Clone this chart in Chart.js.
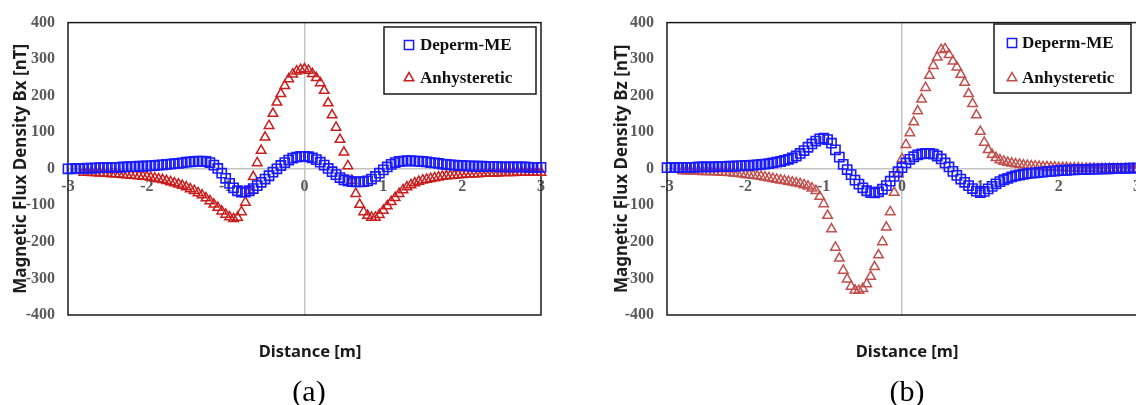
<!DOCTYPE html>
<html>
<head>
<meta charset="utf-8">
<script src="https://cdn.jsdelivr.net/npm/chart.js@4.4.0/dist/chart.umd.min.js"></script>
<style>
  html, body { margin: 0; padding: 0; background: #fff; }
  body { width: 1136px; height: 405px; overflow: hidden; position: relative; }
  .panel { position: absolute; top: 0; height: 405px; }
  .xtitle { position: absolute; top: 340px; font: bold 16.5px "Noto Sans", sans-serif; color: #1a1a1a;
            transform: translateX(-50%); white-space: nowrap; line-height: 22px; }
  .caption { position: absolute; top: 374px; font: 30px "Liberation Serif", serif; color: #000;
             transform: translateX(-50%); line-height: 34px; }
</style>
</head>
<body>
<div class="panel" style="left:0px;width:560px"><canvas id="chartA" width="560" height="405"></canvas></div>
<div class="panel" style="left:599px;width:557px"><canvas id="chartB" width="557" height="405"></canvas></div>
<div class="xtitle" style="left:310px">Distance [m]</div>
<div class="caption" style="left:309px">(a)</div>
<div class="xtitle" style="left:907px">Distance [m]</div>
<div class="caption" style="left:907px">(b)</div>

<script>
// distance along the sensor line [m], 0.05 m step
const distance = [
  -3.00, -2.95, -2.90, -2.85, -2.80, -2.75, -2.70, -2.65, -2.60, -2.55, -2.50, -2.45, -2.40, -2.35, -2.30, -2.25, -2.20, -2.15, -2.10, -2.05,
  -2.00, -1.95, -1.90, -1.85, -1.80, -1.75, -1.70, -1.65, -1.60, -1.55, -1.50, -1.45, -1.40, -1.35, -1.30, -1.25, -1.20, -1.15, -1.10, -1.05,
  -1.00, -0.95, -0.90, -0.85, -0.80, -0.75, -0.70, -0.65, -0.60, -0.55, -0.50, -0.45, -0.40, -0.35, -0.30, -0.25, -0.20, -0.15, -0.10, -0.05,
   0.00,  0.05,  0.10,  0.15,  0.20,  0.25,  0.30,  0.35,  0.40,  0.45,  0.50,  0.55,  0.60,  0.65,  0.70,  0.75,  0.80,  0.85,  0.90,  0.95,
   1.00,  1.05,  1.10,  1.15,  1.20,  1.25,  1.30,  1.35,  1.40,  1.45,  1.50,  1.55,  1.60,  1.65,  1.70,  1.75,  1.80,  1.85,  1.90,  1.95,
   2.00,  2.05,  2.10,  2.15,  2.20,  2.25,  2.30,  2.35,  2.40,  2.45,  2.50,  2.55,  2.60,  2.65,  2.70,  2.75,  2.80,  2.85,  2.90,  2.95,
   3.00
];

// (a) Bx [nT]
const bxDeperm = [
  0, 0, 1, 1, 1, 2, 2, 2, 3, 3, 3, 4, 4, 4, 5, 5, 6, 6, 7, 7,
  8, 8, 9, 10, 11, 12, 13, 14, 15, 16, 18, 19, 20, 21, 21, 20, 17, 10, 1, -12,
  -26, -40, -52, -60, -64, -64, -60, -54, -46, -37, -28, -19, -9, 0, 9, 17, 24, 29, 32, 34,
  34, 33, 30, 25, 18, 10, 1, -8, -16, -24, -30, -33, -35, -36, -36, -35, -33, -28, -21, -12,
  -3, 5, 12, 17, 20, 21, 22, 22, 21, 21, 20, 19, 17, 16, 15, 13, 12, 11, 10, 9,
  9, 8, 8, 7, 7, 7, 6, 6, 6, 6, 5, 5, 5, 5, 5, 5, 5, 4, 4, 4,
  4
];
const bxAnhyst = [
  null, null, null, null, -10, -10, -11, -11, -12, -12, -13, -14, -14, -15, -16, -17, -18, -19, -20, -21,
  -22, -24, -26, -28, -30, -33, -36, -39, -42, -46, -50, -55, -60, -66, -72, -80, -88, -97, -106, -116,
  -125, -132, -137, -133, -118, -92, -60, -22, 16, 50, 86, 118, 151, 182, 205, 227, 246, 259, 267, 271,
  273, 269, 260, 249, 235, 214, 180, 147, 113, 80, 45, 8, -32, -68, -98, -118, -128, -133, -133, -126,
  -114, -102, -90, -79, -68, -58, -50, -44, -39, -35, -31, -29, -27, -25, -23, -21, -20, -19, -18, -17,
  -16, -15, -15, -14, -14, -13, -13, -12, -12, -12, -11, -11, -11, -11, -10, -10, -10, -10, -10, -10,
  -10
];

// (b) Bz [nT]
const bzDeperm = [
  3, 3, 3, 4, 4, 4, 4, 4, 5, 5, 5, 5, 5, 6, 6, 6, 7, 7, 8, 8,
  9, 9, 10, 11, 12, 13, 14, 16, 18, 20, 23, 26, 30, 35, 42, 50, 59, 68, 76, 82,
  84, 80, 70, 52, 32, 12, -2, -16, -31, -42, -52, -60, -65, -66, -63, -56, -46, -34, -21, -8,
  3, 16, 26, 33, 38, 41, 42, 42, 40, 35, 27, 16, 5, -7, -18, -28, -37, -46, -54, -61,
  -65, -62, -55, -48, -41, -35, -30, -26, -22, -19, -17, -15, -13, -12, -11, -10, -9, -8, -7, -6,
  -5, -4, -4, -3, -3, -2, -2, -2, -1, -1, -1, 0, 0, 0, 1, 1, 1, 1, 2, 2,
  2
];
const bzAnhyst = [
  null, null, null, null, -6, -6, -7, -7, -7, -8, -8, -8, -9, -9, -10, -10, -11, -12, -13, -14,
  -16, -17, -18, -20, -21, -23, -25, -27, -29, -31, -33, -35, -37, -39, -41, -44, -48, -53, -60, -76,
  -96, -128, -165, -215, -245, -278, -302, -322, -332, -333, -328, -315, -295, -268, -236, -200, -160, -118, -65, -15,
  27, 66, 98, 128, 158, 190, 222, 255, 282, 305, 326, 328, 312, 294, 278, 258, 236, 205, 178, 147,
  102, 72, 52, 39, 30, 24, 20, 17, 15, 13, 12, 10, 9, 8, 7, 6, 5, 5, 4, 4,
  3, 3, 3, 2, 2, 2, 1, 1, 1, 1, 0, 0, 0, 0, 0, 0, 0, 0, 0, 0,
  0
];

const xTicks = { min: -3, max: 3, step: 1 };
const yTicks = { min: -400, max: 400, step: 100 };
const seriesNames = ['Deperm-ME', 'Anhysteretic'];

function toPoints(xs, ys) {
  return xs.map((x, i) => ({ x: x, y: ys[i] })).filter(p => p.y !== null);
}

// plot frame + boxed legend inside the plot area
const framePlugin = {
  id: 'frame',
  beforeDatasetsDraw(chart) {
    const { ctx, chartArea: a } = chart;
    ctx.save();
    ctx.strokeStyle = '#1a1a1a';
    ctx.lineWidth = 1.5;
    ctx.strokeRect(a.left, a.top, a.right - a.left, a.bottom - a.top);
    ctx.restore();
  },
  afterDatasetsDraw(chart, args, opts) {
    const { ctx } = chart;
    const b = opts.box;
    ctx.save();
    ctx.fillStyle = '#fff';
    ctx.fillRect(b.x, b.y, b.w, b.h);
    ctx.strokeStyle = '#1a1a1a';
    ctx.lineWidth = 1.5;
    ctx.strokeRect(b.x, b.y, b.w, b.h);
    chart.data.datasets.forEach((ds, i) => {
      const y = b.rows[i];
      ctx.strokeStyle = ds.pointBorderColor;
      ctx.fillStyle = 'rgba(0,0,0,0)';
      ctx.lineWidth = 1.5;
      Chart.helpers.drawPoint(ctx, { pointStyle: ds.pointStyle, radius: ds.pointRadius, rotation: 0, borderWidth: 1.5 },
        b.x + b.markerX, y);
      ctx.fillStyle = '#111';
      ctx.font = 'bold 17px "Liberation Serif"';
      ctx.textBaseline = 'middle';
      ctx.textAlign = 'left';
      ctx.fillText(ds.label, b.x + b.textX, y + 1);
    });
    ctx.restore();
  }
};

const tickFont = { family: 'Liberation Serif', weight: 'bold', size: 16 };
const zeroLine = c => (c.tick && c.tick.value === 0 ? '#c4c4c4' : 'rgba(0,0,0,0)');

function makeChart(id, cfg) {
  return new Chart(document.getElementById(id), {
    type: 'scatter',
    data: {
      datasets: [
        {
          label: seriesNames[0],
          data: toPoints(distance, cfg.deperm),
          pointStyle: 'rect',
          pointRadius: 6.5,
          pointBorderWidth: 1.6,
          pointBorderColor: '#1a1aff',
          pointBackgroundColor: 'rgba(0,0,0,0)',
          borderColor: '#1a1aff',
          showLine: false,
          clip: false
        },
        {
          label: seriesNames[1],
          data: toPoints(distance, cfg.anhyst),
          pointStyle: 'triangle',
          pointRadius: 5.5,
          pointBorderWidth: 1.5,
          pointBorderColor: cfg.red,
          pointBackgroundColor: 'rgba(0,0,0,0)',
          borderColor: cfg.red,
          showLine: false,
          clip: false
        }
      ]
    },
    options: {
      responsive: false,
      animation: false,
      layout: { padding: { top: 16, right: 19, bottom: 90, left: 0 } },
      plugins: {
        legend: { display: false },
        tooltip: { enabled: false },
        frame: { box: cfg.box }
      },
      scales: {
        x: {
          type: 'linear',
          position: { y: 0 },
          min: xTicks.min,
          max: xTicks.max,
          ticks: { stepSize: xTicks.step, padding: 8, color: '#5a5a5a', font: tickFont },
          grid: { drawTicks: false, color: zeroLine, lineWidth: 1.5 },
          border: { display: false }
        },
        y: {
          type: 'linear',
          min: yTicks.min,
          max: yTicks.max,
          ticks: { stepSize: yTicks.step, padding: 13, color: '#5a5a5a', font: tickFont },
          grid: { drawTicks: false, color: zeroLine, lineWidth: 1.5 },
          border: { display: false },
          title: {
            display: true,
            text: cfg.yTitle,
            color: '#1e1e1e',
            font: { family: 'Noto Sans', weight: 'bold', size: 17 },
            padding: { top: cfg.titlePad, bottom: 0 }
          },
          afterFit: s => { s.width = 68; }
        }
      }
    },
    plugins: [framePlugin]
  });
}

makeChart('chartA', {
  deperm: bxDeperm,
  anhyst: bxAnhyst,
  red: '#c81e1e',
  yTitle: 'Magnetic Flux Density Bx [nT]',
  titlePad: 11,
  box: { x: 384, y: 27, w: 152, h: 67, rows: [45, 78], markerX: 25, textX: 36 }
});

makeChart('chartB', {
  deperm: bzDeperm,
  anhyst: bzAnhyst,
  red: '#c0504d',
  yTitle: 'Magnetic Flux Density Bz [nT]',
  titlePad: 13,
  box: { x: 395, y: 24, w: 137, h: 69, rows: [43, 78], markerX: 18, textX: 28 }
});
</script>
</body>
</html>
